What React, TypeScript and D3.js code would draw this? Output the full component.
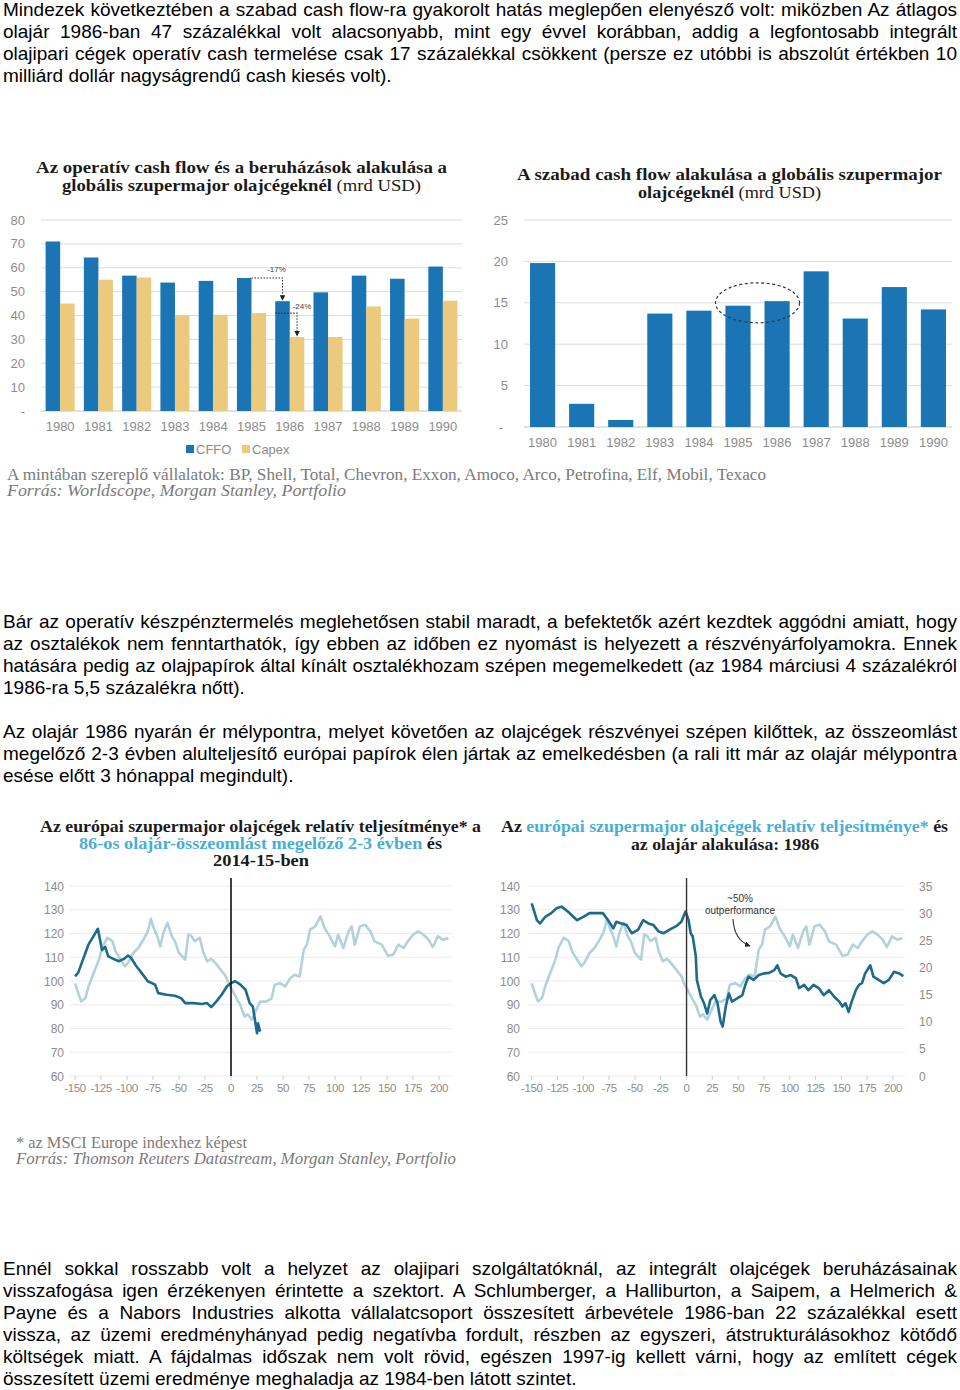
import React, { useEffect, useRef } from 'react'
import * as d3 from 'd3'

// bar charts, mrd USD
const years = ['1980', '1981', '1982', '1983', '1984', '1985', '1986', '1987', '1988', '1989', '1990']
const cffo = [71, 64.3, 56.7, 53.8, 54.5, 55.7, 46, 49.7, 56.7, 55.4, 60.5]
const capex = [45, 55, 55.9, 40.1, 40.3, 41, 31, 31, 43.8, 38.7, 46.2]
const fcf = [19.8, 2.8, 0.85, 13.7, 14.05, 14.65, 15.2, 18.8, 13.1, 16.9, 14.2]
const cfTicks = [10, 20, 30, 40, 50, 60, 70, 80]
const fcfTicks = [5, 10, 15, 20, 25]

// relative performance vs MSCI Europe, days from the oil price crash
const relDays = [-150, -147, -144, -140, -137, -132, -127, -124, -119, -114, -111, -107, -102, -99, -94, -89, -84, -80, -77, -75, -71, -68, -65, -61, -57, -54, -50, -44, -41, -38, -35, -30, -27, -23, -19, -15, -10, -5, -2, 1, 6, 9, 13, 16, 20, 25, 28, 34, 39, 42, 47, 52, 57, 61, 66, 70, 73, 76, 81, 86, 90, 95, 100, 103, 108, 113, 116, 119, 124, 129, 134, 138, 145, 151, 156, 161, 166, 170, 175, 180, 185, 190, 194, 199, 204, 209]
const rel1986 = [99, 95, 91.4, 92.8, 97.7, 103.4, 109, 114, 118.2, 116.8, 112.5, 109.7, 106.2, 107.6, 111.8, 114, 117.5, 121, 126.2, 123.1, 118.9, 114.6, 120.3, 124.5, 118.9, 116.8, 111.8, 109, 119.6, 118.9, 116.8, 118.2, 112.5, 108.3, 109.3, 107.6, 104.8, 102, 98.5, 96.3, 92.1, 89.9, 85, 86, 83.7, 88.5, 91.3, 91.3, 92.7, 98.4, 99.1, 97.7, 101.2, 102.6, 101.9, 113.2, 115.3, 121.6, 123, 127.2, 122.3, 118.8, 114.6, 119.5, 113.9, 120.9, 123, 115.3, 123, 123.7, 120.9, 116.7, 115.3, 110.6, 111.1, 115.3, 113.9, 116.7, 119.5, 120.9, 119.5, 117.4, 114.3, 118.8, 117.4, 118.1]

const rel2014Days = [-150, -147, -144, -140, -137, -132, -128, -126, -124, -121, -118, -113, -108, -103, -99, -96, -91, -86, -80, -73, -70, -62, -54, -48, -44, -36, -28, -23, -19, -14, -9, -4, 0, 4, 9, 14, 18, 21, 23, 25, 26, 28]
const rel2014 = [102, 103.4, 107, 111.8, 115.4, 119, 122, 117.5, 113, 114.4, 110.4, 109.3, 108.3, 109.3, 110.7, 109.7, 106.2, 103.4, 99.9, 98.5, 94.9, 94.2, 93.8, 92.8, 90.7, 90.7, 90.3, 90.7, 89, 91.4, 94.2, 97.7, 99.1, 99.9, 98.5, 96.3, 90.7, 89.2, 83.7, 78, 82.2, 78.7]

// oil price 1986, USD (right axis)
const oilDays = [-150, -148, -145, -142, -137, -131, -126, -121, -115, -106, -100, -94, -85, -81, -76, -71, -68, -63, -58, -53, -47, -42, -37, -32, -27, -22, -16, -10, -5, -1, 2, 4, 6, 9, 10, 14, 17, 20, 23, 27, 30, 33, 35, 38, 41, 44, 49, 54, 57, 60, 65, 70, 75, 80, 85, 88, 91, 96, 101, 106, 109, 114, 118, 123, 128, 133, 138, 143, 148, 151, 154, 157, 160, 164, 167, 170, 173, 178, 181, 186, 191, 196, 201, 206, 210]
const oil1986 = [31.8, 30.6, 28.7, 28.1, 29.3, 30, 30.9, 31.2, 30.3, 28.7, 29.3, 30, 30, 30, 28.7, 27.2, 28.4, 28.1, 27.8, 26.3, 26.9, 28.7, 28.1, 27.8, 26.6, 26.3, 27, 27.6, 28.4, 30.3, 28.7, 26.3, 25.7, 22, 17.7, 14.6, 13.4, 11.5, 14, 14.9, 13.4, 10, 9.1, 12.8, 15.2, 13.7, 14.3, 14.9, 16.8, 18.3, 17.7, 18.6, 18.9, 19, 19.5, 20.4, 18.9, 18.3, 18.6, 18, 16.2, 16.8, 15.8, 16.8, 16.2, 14.9, 15.8, 14.6, 13.7, 12.8, 13.4, 11.8, 13.7, 15.8, 16.8, 17.1, 18.9, 20.4, 18.3, 17.7, 17.1, 17.7, 19.2, 18.9, 18.4]

const relTicks = [60, 70, 80, 90, 100, 110, 120, 130, 140]
const oilTicks = [0, 5, 10, 15, 20, 25, 30, 35]
const dayTicks = [-150, -125, -100, -75, -50, -25, 0, 25, 50, 75, 100, 125, 150, 175, 200]

const para1 = [
  'Mindezek következtében a szabad cash flow-ra gyakorolt hatás meglepően elenyésző volt: miközben Az átlagos',
  'olajár 1986-ban 47 százalékkal volt alacsonyabb, mint egy évvel korábban, addig a legfontosabb integrált',
  'olajipari cégek operatív cash termelése csak 17 százalékkal csökkent (persze ez utóbbi is abszolút értékben 10',
  'milliárd dollár nagyságrendű cash kiesés volt).',
]
const para2 = [
  'Bár az operatív készpénztermelés meglehetősen stabil maradt, a befektetők azért kezdtek aggódni amiatt, hogy',
  'az osztalékok nem fenntarthatók, így ebben az időben ez nyomást is helyezett a részvényárfolyamokra. Ennek',
  'hatására pedig az olajpapírok által kínált osztalékhozam szépen megemelkedett (az 1984 márciusi 4 százalékról',
  '1986-ra 5,5 százalékra nőtt).',
]
const para3 = [
  'Az olajár 1986 nyarán ér mélypontra, melyet követően az olajcégek részvényei szépen kilőttek, az összeomlást',
  'megelőző 2-3 évben alulteljesítő európai papírok élen jártak az emelkedésben (a rali itt már az olajár mélypontra',
  'esése előtt 3 hónappal megindult).',
]
const para4 = [
  'Ennél sokkal rosszabb volt a helyzet az olajipari szolgáltatóknál, az integrált olajcégek beruházásainak',
  'visszafogása igen érzékenyen érintette a szektort. A Schlumberger, a Halliburton, a Saipem, a Helmerich &',
  'Payne és a Nabors Industries alkotta vállalatcsoport összesített árbevétele 1986-ban 22 százalékkal esett',
  'vissza, az üzemi eredményhányad pedig negatívba fordult, részben az egyszeri, átstrukturálásokhoz kötődő',
  'költségek miatt. A fájdalmas időszak nem volt rövid, egészen 1997-ig kellett várni, hogy az említett cégek',
  'összesített üzemi eredménye meghaladja az 1984-ben látott szintet.',
]

const BLUE = '#1b75b4'
const GOLD = '#ebc97d'
const GRID = '#dcdcdc'
const TICK = '#8c8c8c'
const TEAL = '#47afd5'
const LIGHT = '#b2d2db'
const DARK = '#1d6a8b'
const SANS = '"Liberation Sans", Arial, sans-serif'
const SERIF = '"Liberation Serif", "DejaVu Serif", serif'

const Paragraph = ({ lines, top }: { lines: string[]; top: number }) => (
  <g>
    {lines.map((t, i) => (
      <text
        key={i}
        className={i < lines.length - 1 ? 'just' : ''}
        x={3}
        y={top + i * 21.9}
        fontFamily={SANS}
        fontSize={19}
        fill="#000"
      >
        {t}
      </text>
    ))}
  </g>
)

const App = () => {
  const ref = useRef<SVGSVGElement>(null)

  useEffect(() => {
    // justify paragraph lines to 954px by word spacing
    d3.select(ref.current)
      .selectAll<SVGTextElement, unknown>('text.just')
      .each(function () {
        this.setAttribute('word-spacing', '0')
        const w = this.getComputedTextLength()
        const n = (this.textContent || '').split(' ').length - 1
        if (n > 0) this.setAttribute('word-spacing', String((954 - w) / n))
      })
  }, [])

  // chart 1
  const x1 = d3.scaleBand().domain(years).range([41, 462]).paddingInner(0.24).paddingOuter(0.12)
  const x1s = d3.scaleBand().domain(['cffo', 'capex']).range([0, x1.bandwidth()])
  const y1 = d3.scaleLinear().domain([0, 80]).range([411, 220])

  // chart 2
  const x2 = d3.scaleBand().domain(years).range([524, 952]).paddingInner(0.357).paddingOuter(0.154)
  const y2 = d3.scaleLinear().domain([0, 25]).range([427, 220])

  // chart 3
  const x3 = d3.scaleLinear().domain([-150, 200]).range([75, 439])
  const y3 = d3.scaleLinear().domain([60, 140]).range([1076, 886])

  // chart 4
  const x4 = d3.scaleLinear().domain([-150, 200]).range([531.7, 893])
  const y4 = d3.scaleLinear().domain([60, 140]).range([1076, 886])
  const y4r = d3.scaleLinear().domain([0, 35]).range([1076, 886])

  const line3Light = d3.line<number>().x((_, i) => x3(relDays[i])).y((d) => y3(d))
  const line3Dark = d3.line<number>().x((_, i) => x3(rel2014Days[i])).y((d) => y3(d))
  const line4Light = d3.line<number>().x((_, i) => x4(relDays[i])).y((d) => y4(d))
  const line4Oil = d3.line<number>().x((_, i) => x4(oilDays[i])).y((d) => y4r(d))

  const i85 = years.indexOf('1985')
  const i86 = years.indexOf('1986')
  const a1x0 = (x1('1985') as number) + (x1s('cffo') as number) + x1s.bandwidth()
  const a1x1 = (x1('1986') as number) + (x1s('cffo') as number) + x1s.bandwidth() / 2
  const a2x0 = x1('1986') as number
  const a2x1 = (x1('1986') as number) + (x1s('capex') as number) + x1s.bandwidth() / 2

  return (
    <svg
      ref={ref}
      width={960}
      height={1390}
      style={{ position: 'absolute', left: 0, top: 0, background: '#fff' }}
    >
      <defs>
        <marker id="arr" viewBox="0 0 10 10" refX="9" refY="5" markerWidth="5" markerHeight="5" orient="auto">
          <path d="M0,0L10,5L0,10z" fill="#222" />
        </marker>
      </defs>

      <Paragraph lines={para1} top={16} />
      <Paragraph lines={para2} top={628} />
      <Paragraph lines={para3} top={738} />
      <Paragraph lines={para4} top={1275} />

      {/* chart 1: CFFO and Capex */}
      <g fontFamily={SERIF} fontSize={17} fill="#1a1a1a">
        <text x={36} y={173} textLength={411} lengthAdjust="spacingAndGlyphs" fontWeight="bold">
          Az operatív cash flow és a beruházások alakulása a
        </text>
        <text x={62} y={191} textLength={359} lengthAdjust="spacingAndGlyphs">
          <tspan fontWeight="bold">globális szupermajor olajcégeknél </tspan>
          <tspan>(mrd USD)</tspan>
        </text>
      </g>
      <g>
        {cfTicks.map((t) => (
          <line key={t} x1={41} x2={462} y1={y1(t)} y2={y1(t)} stroke={GRID} />
        ))}
        <line x1={41} x2={462} y1={y1(0)} y2={y1(0)} stroke="#c4c4c4" />
        {cfTicks.map((t) => (
          <text key={t} x={25} y={y1(t) + 4.5} textAnchor="end" fontFamily={SANS} fontSize={13} fill={TICK}>
            {t}
          </text>
        ))}
        <text x={25} y={y1(0) + 4.5} textAnchor="end" fontFamily={SANS} fontSize={13} fill={TICK}>-</text>
        {years.map((yr, i) => (
          <g key={yr}>
            <rect
              x={(x1(yr) as number) + (x1s('cffo') as number)}
              y={y1(cffo[i])}
              width={x1s.bandwidth()}
              height={y1(0) - y1(cffo[i])}
              fill={BLUE}
            />
            <rect
              x={(x1(yr) as number) + (x1s('capex') as number)}
              y={y1(capex[i])}
              width={x1s.bandwidth()}
              height={y1(0) - y1(capex[i])}
              fill={GOLD}
            />
            <text
              x={(x1(yr) as number) + x1.bandwidth() / 2}
              y={431}
              textAnchor="middle"
              fontFamily={SANS}
              fontSize={13}
              fill={TICK}
            >
              {yr}
            </text>
          </g>
        ))}
        <path
          d={`M${a1x0},${y1(cffo[i85])}H${a1x1}V${y1(cffo[i86]) - 1}`}
          fill="none"
          stroke="#333"
          strokeWidth={1.1}
          strokeDasharray="1.5,1.5"
          markerEnd="url(#arr)"
        />
        <path
          d={`M${a2x0},${y1(capex[i85])}H${a2x1}V${y1(capex[i86]) - 1}`}
          fill="none"
          stroke="#333"
          strokeWidth={1.1}
          strokeDasharray="1.5,1.5"
          markerEnd="url(#arr)"
        />
        <text x={a1x1 - 6} y={y1(cffo[i85]) - 6} textAnchor="middle" fontFamily={SANS} fontSize={8} fill="#444">-17%</text>
        <text x={a2x1 + 5} y={y1(cffo[i86]) + 8} textAnchor="middle" fontFamily={SANS} fontSize={8} fill="#444">-24%</text>
        <rect x={186} y={445} width={8} height={8} fill={BLUE} />
        <text x={196} y={454} fontFamily={SANS} fontSize={13} fill={TICK}>CFFO</text>
        <rect x={242} y={445} width={8} height={8} fill={GOLD} />
        <text x={252} y={454} fontFamily={SANS} fontSize={13} fill={TICK}>Capex</text>
      </g>

      {/* chart 2: free cash flow */}
      <g fontFamily={SERIF} fontSize={17} fill="#1a1a1a">
        <text x={517} y={180} textLength={425} lengthAdjust="spacingAndGlyphs" fontWeight="bold">
          A szabad cash flow alakulása a globális szupermajor
        </text>
        <text x={638} y={198} textLength={183} lengthAdjust="spacingAndGlyphs">
          <tspan fontWeight="bold">olajcégeknél </tspan>
          <tspan>(mrd USD)</tspan>
        </text>
      </g>
      <g>
        {fcfTicks.map((t) => (
          <line key={t} x1={524} x2={952} y1={y2(t)} y2={y2(t)} stroke={GRID} />
        ))}
        <line x1={524} x2={952} y1={y2(0)} y2={y2(0)} stroke="#c4c4c4" />
        {fcfTicks.map((t) => (
          <text key={t} x={508} y={y2(t) + 4.5} textAnchor="end" fontFamily={SANS} fontSize={13} fill={TICK}>
            {t}
          </text>
        ))}
        <text x={503} y={y2(0) + 4.5} textAnchor="end" fontFamily={SANS} fontSize={13} fill={TICK}>-</text>
        {years.map((yr, i) => (
          <g key={yr}>
            <rect x={x2(yr)} y={y2(fcf[i])} width={x2.bandwidth()} height={y2(0) - y2(fcf[i])} fill={BLUE} />
            <text
              x={(x2(yr) as number) + x2.bandwidth() / 2}
              y={447}
              textAnchor="middle"
              fontFamily={SANS}
              fontSize={13}
              fill={TICK}
            >
              {yr}
            </text>
          </g>
        ))}
        <ellipse
          cx={((x2('1985') as number) + (x2('1986') as number) + x2.bandwidth()) / 2}
          cy={y2(15)}
          rx={42}
          ry={20}
          fill="none"
          stroke="#2b3a4a"
          strokeWidth={1.2}
          strokeDasharray="3,2.5"
        />
      </g>

      {/* footnotes under bar charts */}
      <text x={7} y={480} textLength={759} lengthAdjust="spacingAndGlyphs" fontFamily={SERIF} fontSize={16} fill="#7a7a7a">
        A mintában szereplő vállalatok: BP, Shell, Total, Chevron, Exxon, Amoco, Arco, Petrofina, Elf, Mobil, Texaco
      </text>
      <text x={7} y={496} textLength={339} lengthAdjust="spacingAndGlyphs" fontFamily={SERIF} fontSize={16} fontStyle="italic" fill="#7a7a7a">
        Forrás: Worldscope, Morgan Stanley, Portfolio
      </text>

      {/* chart 3 */}
      <g fontFamily={SERIF} fontSize={17} fontWeight="bold" fill="#1a1a1a">
        <text x={40} y={832} textLength={441} lengthAdjust="spacingAndGlyphs">
          Az európai szupermajor olajcégek relatív teljesítménye* a
        </text>
        <text x={79} y={849} textLength={363} lengthAdjust="spacingAndGlyphs">
          <tspan fill={TEAL}>86-os olajár-összeomlást megelőző 2-3 évben</tspan>
          <tspan> és</tspan>
        </text>
        <text x={213} y={866} textLength={96} lengthAdjust="spacingAndGlyphs">2014-15-ben</text>
      </g>
      <g>
        {relTicks.map((t) => (
          <line key={t} x1={70} x2={452} y1={y3(t)} y2={y3(t)} stroke="#ebebeb" />
        ))}
        {relTicks.map((t) => (
          <text key={t} x={64} y={y3(t) + 4.5} textAnchor="end" fontFamily={SANS} fontSize={12} fill={TICK}>
            {t}
          </text>
        ))}
        {dayTicks.map((t) => (
          <g key={t}>
            <line x1={x3(t)} x2={x3(t)} y1={1076} y2={1080} stroke="#d0d0d0" />
            <text x={x3(t)} y={1092} textAnchor="middle" fontFamily={SANS} fontSize={11.5} letterSpacing={-0.4} fill={TICK}>
              {t}
            </text>
          </g>
        ))}
        <path d={line3Light(rel1986) || ''} fill="none" stroke={LIGHT} strokeWidth={2.6} strokeLinejoin="round" />
        <path d={line3Dark(rel2014) || ''} fill="none" stroke={DARK} strokeWidth={2.6} strokeLinejoin="round" />
        <line x1={x3(0)} x2={x3(0)} y1={878} y2={1076} stroke="#111" strokeWidth={1.6} />
      </g>

      {/* chart 4 */}
      <g fontFamily={SERIF} fontSize={17} fontWeight="bold" fill="#1a1a1a">
        <text x={501} y={832} textLength={447} lengthAdjust="spacingAndGlyphs">
          <tspan>Az </tspan>
          <tspan fill={TEAL}>európai szupermajor olajcégek relatív teljesítménye*</tspan>
          <tspan> és</tspan>
        </text>
        <text x={631} y={850} textLength={188} lengthAdjust="spacingAndGlyphs">az olajár alakulása: 1986</text>
      </g>
      <g>
        {relTicks.map((t) => (
          <line key={t} x1={528} x2={905} y1={y4(t)} y2={y4(t)} stroke="#ebebeb" />
        ))}
        {relTicks.map((t) => (
          <text key={t} x={520} y={y4(t) + 4.5} textAnchor="end" fontFamily={SANS} fontSize={12} fill={TICK}>
            {t}
          </text>
        ))}
        {oilTicks.map((t) => (
          <text key={t} x={919} y={y4r(t) + 4.5} fontFamily={SANS} fontSize={12} fill={TICK}>
            {t}
          </text>
        ))}
        {dayTicks.map((t) => (
          <g key={t}>
            <line x1={x4(t)} x2={x4(t)} y1={1076} y2={1080} stroke="#d0d0d0" />
            <text x={x4(t)} y={1092} textAnchor="middle" fontFamily={SANS} fontSize={11.5} letterSpacing={-0.4} fill={TICK}>
              {t}
            </text>
          </g>
        ))}
        <path d={line4Light(rel1986) || ''} fill="none" stroke={LIGHT} strokeWidth={2.6} strokeLinejoin="round" />
        <path d={line4Oil(oil1986) || ''} fill="none" stroke={DARK} strokeWidth={2.6} strokeLinejoin="round" />
        <line x1={x4(0)} x2={x4(0)} y1={878} y2={1076} stroke="#333" strokeWidth={1.4} />
        <text x={740} y={902} textAnchor="middle" fontFamily={SANS} fontSize={10} fill="#333">~50%</text>
        <text x={740} y={914} textAnchor="middle" fontFamily={SANS} fontSize={10} fill="#333">outperformance</text>
        <path d="M733,919 Q734,940 750,946" fill="none" stroke="#333" strokeWidth={1.1} markerEnd="url(#arr)" />
      </g>

      {/* footnotes under line charts */}
      <text x={16} y={1148} textLength={231} lengthAdjust="spacingAndGlyphs" fontFamily={SERIF} fontSize={16} fill="#7a7a7a">
        * az MSCI Europe indexhez képest
      </text>
      <text x={16} y={1164} textLength={440} lengthAdjust="spacingAndGlyphs" fontFamily={SERIF} fontSize={16} fontStyle="italic" fill="#7a7a7a">
        Forrás: Thomson Reuters Datastream, Morgan Stanley, Portfolio
      </text>
    </svg>
  )
}

export default App
